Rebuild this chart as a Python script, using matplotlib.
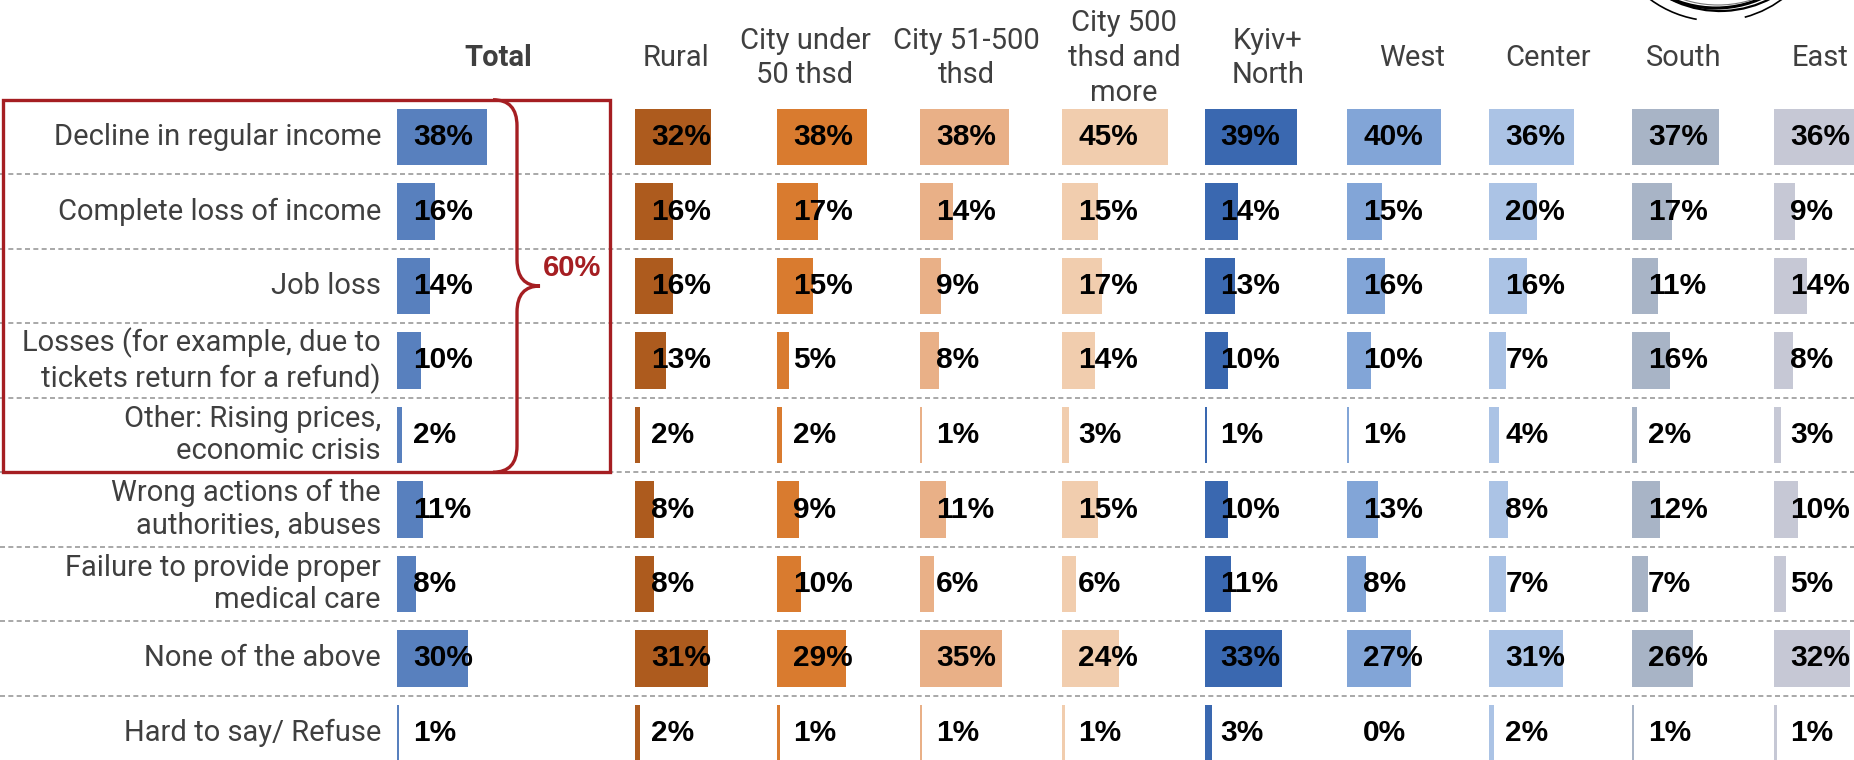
import matplotlib
matplotlib.use('Agg')
import matplotlib.pyplot as plt
from matplotlib.patches import Rectangle, PathPatch, Arc
from matplotlib.path import Path

plt.rcParams['font.family'] = ['Roboto', 'DejaVu Sans']

rows = ['Decline in regular income', 'Complete loss of income', 'Job loss',
        'Losses (for example, due to\ntickets return for a refund)',
        'Other: Rising prices,\neconomic crisis',
        'Wrong actions of the\nauthorities, abuses',
        'Failure to provide proper\nmedical care',
        'None of the above', 'Hard to say/ Refuse']

groups = ['Total', 'Rural', 'City under\n50 thsd', 'City 51-500\nthsd', 'City 500\nthsd and\nmore',
          'Kyiv+\nNorth', 'West', 'Center', 'South', 'East']

total = [38, 16, 14, 10, 2, 11, 8, 30, 1]
rural = [32, 16, 16, 13, 2, 8, 8, 31, 2]
city_50 = [38, 17, 15, 5, 2, 9, 10, 29, 1]
city_51_500 = [38, 14, 9, 8, 1, 11, 6, 35, 1]
city_500 = [45, 15, 17, 14, 3, 15, 6, 24, 1]
kyiv_north = [39, 14, 13, 10, 1, 10, 11, 33, 3]
west = [40, 15, 16, 10, 1, 13, 8, 27, 0]
center = [36, 20, 16, 7, 4, 8, 7, 31, 2]
south = [37, 17, 11, 16, 2, 12, 7, 26, 1]
east = [36, 9, 14, 8, 3, 10, 5, 32, 1]

bracket_total = '60%'

series = [total, rural, city_50, city_51_500, city_500, kyiv_north, west, center, south, east]
colors = ['#5880BE', '#AD5B1E', '#D97B2F', '#E9B087', '#F1CDAE',
          '#3A68B0', '#82A5D7', '#ABC3E5', '#A8B4C6', '#C6C8D5']

# layout (pixels of the 1854x760 canvas)
W, H = 1854, 760
PX = 2.36          # pixels per percentage point
RP = 74.5          # pixels per row
ROW0 = 137         # y of first row centre
col_left = [397] + [635 + 142.4 * k for k in range(9)]
head_x = [498, 676, 805, 966, 1124, 1268, 1412, 1548, 1684, 1820]
gray = '#3f3f3f'
red = '#A51E22'

fig = plt.figure(figsize=(W / 100, H / 100), dpi=100)
ax = fig.add_axes([0, 0, 1, 1])
ax.set_xlim(0, W / PX)
ax.set_ylim((H - ROW0) / RP, -ROW0 / RP)
ax.axis('off')

ypos = list(range(len(rows)))

# dashed separators
ax.hlines([i + 0.5 for i in range(len(rows) - 1)], 0, W / PX, colors='#9a9a9a',
          linestyles=(0, (3, 2)), lw=1.2, zorder=1)

for j, vals in enumerate(series):
    x0 = col_left[j] / PX
    ax.barh(ypos, vals, left=x0, height=0.76, color=colors[j], zorder=2)
    for i, v in enumerate(vals):
        ax.text(x0 + 16 / PX, i, '%d%%' % v, ha='left', va='center', fontsize=21.5,
                fontweight='bold', family=['Liberation Sans', 'DejaVu Sans'], color='black', zorder=4)
    ax.text(head_x[j] / PX, (58 - ROW0) / RP, groups[j], ha='center', va='center',
            multialignment='center', fontsize=21, color=gray, linespacing=1.3,
            fontweight='bold' if j == 0 else 'normal')

for i, lab in enumerate(rows):
    ax.text(381 / PX, i, lab, ha='right', va='center', fontsize=21, color=gray,
            multialignment='right', linespacing=1.2)

# red box with brace
ax.add_patch(Rectangle((3 / PX, -0.5), (610 - 3) / PX, 5.0, fill=False, ec=red, lw=2.4, zorder=5))
xl, xs, xt = 493 / PX, 517 / PX, 540 / PX
top, bot, mid, r = -0.5, 4.5, 2.0, 0.35
verts = [(xl, top), (xs, top), (xs, top + r), (xs, mid - r), (xs, mid), (xt, mid),
         (xs, mid), (xs, mid + r), (xs, bot - r), (xs, bot), (xl, bot)]
codes = [Path.MOVETO, Path.CURVE3, Path.CURVE3, Path.LINETO, Path.CURVE3, Path.CURVE3,
         Path.CURVE3, Path.CURVE3, Path.LINETO, Path.CURVE3, Path.CURVE3]
ax.add_patch(PathPatch(Path(verts, codes), fill=False, ec=red, lw=2.4, zorder=5))
ax.text(572 / PX, 1.76, bracket_total, ha='center', va='center', fontsize=21, fontweight='bold',
        family=['Liberation Sans', 'DejaVu Sans'], color=red, zorder=5)

# logo scribble at top right
lax = fig.add_axes([0, 0, 1, 1], facecolor='none')
lax.set_xlim(0, W)
lax.set_ylim(H, 0)
lax.axis('off')
lax.add_patch(Arc((1716, -104), 224, 224, theta1=30, theta2=150, color='black', lw=2.2))
lax.add_patch(Arc((1718, -108), 226, 226, theta1=35, theta2=145, color='#777777', lw=0.8))
lax.add_patch(Arc((1720, -98), 218, 218, theta1=35, theta2=140, color='black', lw=1.6))
lax.add_patch(Arc((1716, -90), 222, 222, theta1=100, theta2=160, color='black', lw=1.2))
lax.add_patch(Arc((1716, -90), 222, 222, theta1=25, theta2=75, color='black', lw=1.2))

fig.savefig('out.png', dpi=100)
